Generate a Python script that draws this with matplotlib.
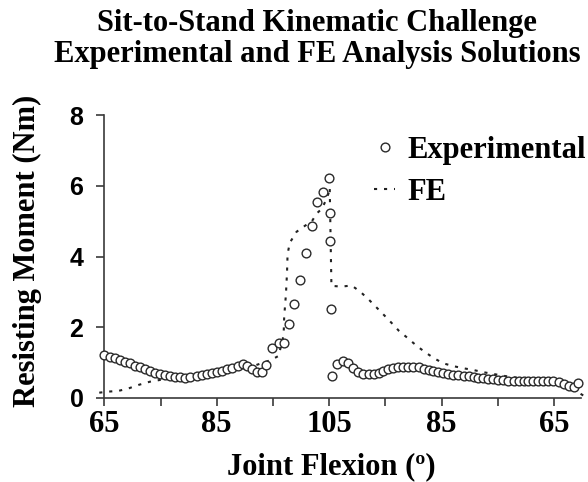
import matplotlib
matplotlib.use("Agg")
import matplotlib.pyplot as plt

# x = position along the sit-to-stand cycle (deg travelled from 65 deg start),
# 0..40 is flexion 65 -> 105, 40..80 is extension 105 -> 65
exp_x = [0.0, 1.0, 1.9, 2.8, 3.7, 4.6, 5.5, 6.4, 7.2, 8.1, 9.0, 9.9, 10.8, 11.7,
         12.6, 13.5, 14.4, 15.2, 16.4, 17.3, 18.2, 19.1, 20.0, 20.9, 21.8, 22.8,
         23.7, 24.6, 25.3, 26.2, 27.1, 28.0, 28.7, 29.8, 31.0, 31.9, 32.9, 33.8,
         34.8, 35.8, 36.9, 37.8, 38.9, 39.9, 40.2, 40.2, 40.3, 40.5, 41.4, 42.4,
         43.4, 44.3, 45.2, 46.1, 47.0, 47.9, 48.8, 49.6, 50.5, 51.4, 52.3, 53.2,
         54.1, 55.0, 55.9, 56.8, 57.7, 58.5, 59.4, 60.3, 61.2, 62.1, 63.0, 63.9,
         64.8, 65.7, 66.5, 67.4, 68.3, 69.2, 70.1, 71.0, 71.9, 72.8, 73.7, 74.6,
         75.4, 76.3, 77.2, 78.1, 79.0, 79.9, 80.8, 81.7, 82.6, 83.5, 84.3]
exp_y = [1.22, 1.17, 1.12, 1.07, 1.03, 0.98, 0.91, 0.87, 0.81, 0.76, 0.72, 0.68,
         0.65, 0.62, 0.60, 0.58, 0.57, 0.59, 0.62, 0.65, 0.68, 0.72, 0.74, 0.77,
         0.81, 0.86, 0.91, 0.96, 0.91, 0.81, 0.74, 0.73, 0.93, 1.41, 1.56, 1.56,
         2.08, 2.66, 3.34, 4.11, 4.86, 5.54, 5.82, 6.22, 5.22, 4.43, 2.52, 0.63,
         0.97, 1.05, 0.98, 0.86, 0.74, 0.68, 0.67, 0.67, 0.70, 0.76, 0.81, 0.85,
         0.88, 0.89, 0.89, 0.89, 0.87, 0.83, 0.79, 0.76, 0.74, 0.70, 0.68, 0.66,
         0.64, 0.63, 0.61, 0.59, 0.57, 0.56, 0.54, 0.53, 0.51, 0.50, 0.49, 0.48,
         0.48, 0.48, 0.49, 0.49, 0.49, 0.49, 0.49, 0.48, 0.45, 0.40, 0.35, 0.31,
         0.42]

fe_x = [-0.9, 0.7, 2.5, 4.3, 6.1, 8.1, 9.9, 13.5, 17.0, 22.4, 26.8, 29.6, 31.0,
        31.9, 32.0, 32.3, 32.5, 32.6, 33.0, 34.2, 35.7, 36.9, 37.8, 38.7, 39.3,
        39.9, 40.1, 40.4, 42.2, 44.0, 45.5, 47.0, 48.3, 49.6, 51.0, 52.4, 54.0,
        55.6, 57.2, 58.7, 60.3, 62.1, 63.9, 65.7, 67.4, 71.3, 73.1, 77.5, 82.0,
        85.2]
fe_y = [0.15, 0.18, 0.20, 0.27, 0.37, 0.46, 0.51, 0.57, 0.63, 0.78, 0.92, 1.07,
        1.19, 1.78, 2.30, 2.91, 3.53, 4.07, 4.39, 4.70, 4.87, 4.99, 5.22, 5.35,
        5.55, 5.79, 5.95, 3.17, 3.15, 3.18, 3.01, 2.79, 2.58, 2.37, 2.14, 1.90,
        1.69, 1.47, 1.28, 1.12, 0.98, 0.90, 0.84, 0.79, 0.73, 0.62, 0.58, 0.50,
        0.40, 0.07]

tick_pos = [0, 10, 20, 30, 40, 50, 60, 70, 80]
tick_labels = ['65', '', '85', '', '105', '', '85', '', '65']
y_ticks = [0, 2, 4, 6, 8]

serif = 'Liberation Serif'
sans = 'Liberation Sans'
dark = '#3a3a3a'

fig = plt.figure(figsize=(5.88, 4.82), dpi=100)
ax = fig.add_axes([0.1774, 0.1743, 0.8107, 0.587])

ax.plot(fe_x, fe_y, color='#222222', lw=1.5, linestyle=(0, (1.5, 3.3)),
        clip_on=False, label='FE', zorder=2)
ax.plot(exp_x, exp_y, linestyle='none', marker='o', markersize=6.3,
        markerfacecolor='white', markeredgecolor='#2a2a2a', markeredgewidth=1.0,
        clip_on=False, label='Experimental', zorder=3)

ax.set_xlim(0, 84.8)
ax.set_ylim(0, 8)
ax.spines['top'].set_visible(False)
ax.spines['right'].set_visible(False)
for s in ['left', 'bottom']:
    ax.spines[s].set_color(dark)
    ax.spines[s].set_linewidth(1.2)

ax.set_xticks(tick_pos)
ax.set_xticklabels(tick_labels, fontfamily=serif, fontweight='bold', fontsize=22)
ax.set_yticks(y_ticks)
ax.set_yticklabels([str(v) for v in y_ticks], fontfamily=sans,
                   fontweight='bold', fontsize=18)
ax.tick_params(axis='both', direction='out', length=6, width=1.2, color=dark)
ax.tick_params(axis='y', pad=9)
ax.tick_params(axis='x', pad=3)

ax.set_xlabel('Joint Flexion (º)', fontfamily=serif, fontweight='bold', fontsize=22)
ax.xaxis.set_label_coords(0.476, -0.19)
ax.set_ylabel('Resisting Moment (Nm)', fontfamily=serif, fontweight='bold', fontsize=22)
ax.yaxis.set_label_coords(-0.13, 0.52)

fig.text(0.539, 1 - 39 / 482, 'Sit-to-Stand Kinematic Challenge\nExperimental and FE Analysis Solutions',
         ha='center', va='center', fontfamily=serif, fontweight='bold',
         fontsize=22, linespacing=1.05)

handles, labels = ax.get_legend_handles_labels()
leg = fig.legend(handles[::-1], labels[::-1], loc='upper left',
                 bbox_to_anchor=(374 / 588, 1 - 136 / 482), frameon=False,
                 borderpad=0, borderaxespad=0, handlelength=0.7,
                 handletextpad=0.38, labelspacing=0.42,
                 prop={'family': serif, 'weight': 'bold', 'size': 22})

fig.savefig('out.png', dpi=100)
